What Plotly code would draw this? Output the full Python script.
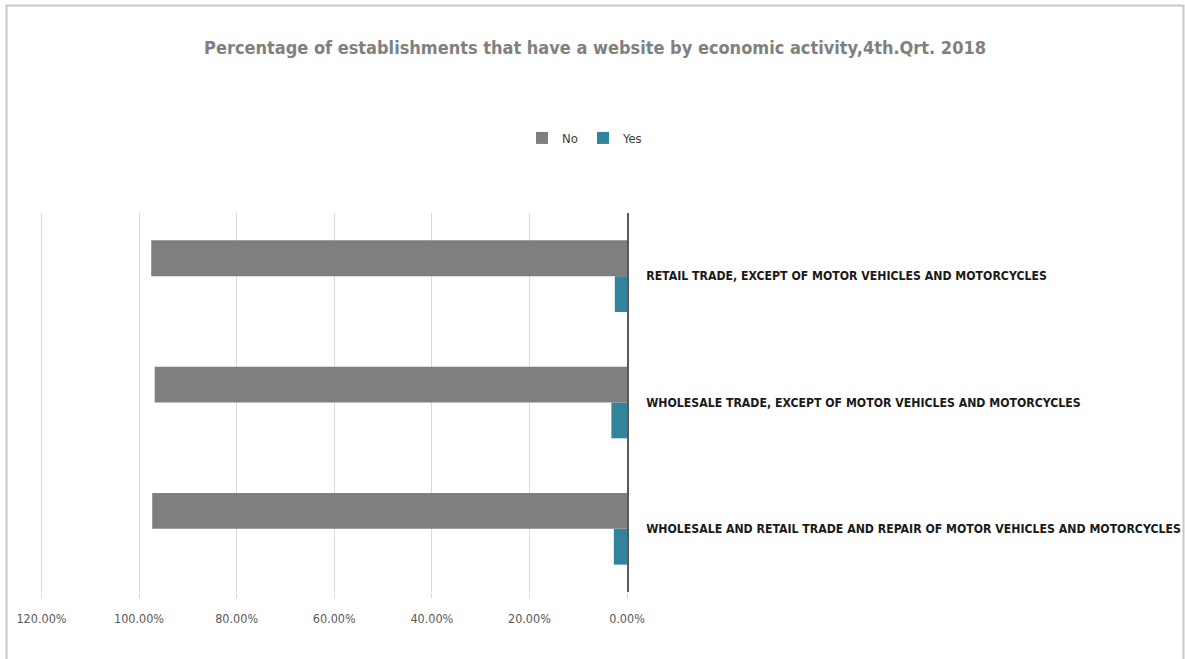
import plotly.graph_objects as go

# Economic activities (bottom to top)
activities = [
    "WHOLESALE AND RETAIL TRADE AND REPAIR OF MOTOR VEHICLES AND MOTORCYCLES",
    "WHOLESALE TRADE, EXCEPT OF MOTOR VEHICLES AND MOTORCYCLES",
    "RETAIL TRADE, EXCEPT OF MOTOR VEHICLES AND MOTORCYCLES",
]
share_no = [97.3, 96.8, 97.5]
share_yes = [2.7, 3.2, 2.5]

tick_vals = [120, 100, 80, 60, 40, 20, 0]
tick_text = ["120.00%", "100.00%", "80.00%", "60.00%", "40.00%", "20.00%", "0.00%"]

NARROW = "DejaVu Sans Condensed, Liberation Sans Narrow, sans-serif"

W, H = 1185, 659
L, R, T, B = 40, 558, 213, 67

fig = go.Figure()
fig.add_trace(go.Bar(
    y=activities, x=share_yes, name="Yes", orientation="h",
    marker=dict(color="#31849b", line=dict(width=0)), legendrank=2,
))
fig.add_trace(go.Bar(
    y=activities, x=share_no, name="No", orientation="h",
    marker=dict(color="#7f7f7f", line=dict(width=0)), legendrank=1,
))

pw = W - L - R
ph = H - T - B

def px_x(v):
    return (v - L) / pw

def px_y(v):
    return (H - B - v) / ph

fig.update_layout(
    width=W, height=H,
    margin=dict(l=L, r=R, t=T, b=B, autoexpand=False),
    paper_bgcolor="white", plot_bgcolor="white",
    barmode="group", bargap=0.433, bargroupgap=0,
    title=dict(
        text="Percentage of establishments that have a website by economic activity,4th.Qrt. 2018",
        x=595 / W, xanchor="center", xref="container",
        y=1 - 48 / H, yanchor="middle", yref="container",
        font=dict(family=NARROW, size=18, color="#808080", weight="bold"),
    ),
    legend=dict(
        orientation="h", x=px_x(522), xanchor="left",
        y=px_y(138), yanchor="middle",
        font=dict(family=NARROW, size=13, color="#404040"),
        itemwidth=30, entrywidth=16, entrywidthmode="pixels",
        bgcolor="rgba(0,0,0,0)",
    ),
    xaxis=dict(
        range=[120.3, 0], tickvals=tick_vals, ticktext=tick_text,
        showgrid=True, gridcolor="#d9d9d9", gridwidth=1,
        zeroline=False, showline=False,
        ticks="outside", ticklen=5, tickcolor="#d9d9d9",
        ticklabelstandoff=10,
        tickfont=dict(family=NARROW, size=12.5, color="#595959"),
        fixedrange=True,
    ),
    yaxis=dict(
        side="right", showline=True, linecolor="#595959", linewidth=1.5,
        showgrid=False, ticks="", ticklabelstandoff=15,
        tickfont=dict(family=NARROW, size=12.2, color="#1a1a1a", weight="bold"),
        fixedrange=True,
    ),
    shapes=[dict(
        type="rect", xref="paper", yref="paper",
        x0=px_x(6.5), x1=px_x(1183.5), y0=px_y(680), y1=px_y(5.5),
        line=dict(color="#c8c8c8", width=2), fillcolor="rgba(0,0,0,0)",
        layer="below",
    )],
    showlegend=True,
)

fig.write_html("out.html")
